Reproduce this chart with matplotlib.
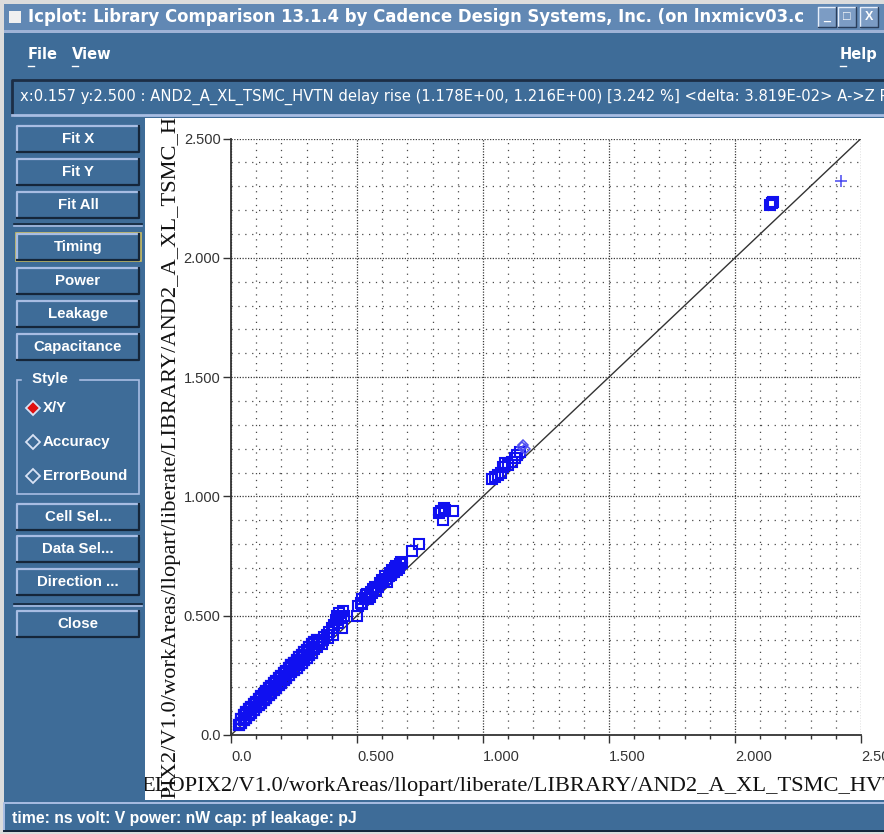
import matplotlib.pyplot as plt
from matplotlib.patches import Rectangle
from matplotlib.lines import Line2D

W, H = 884, 834

# --- data (ns): reference delay vs compared delay ---
# dense lower band, three overlapping rows
band_x = [0.03, 0.04, 0.05, 0.06, 0.07, 0.08, 0.09, 0.10, 0.11, 0.12,
          0.13, 0.14, 0.15, 0.16, 0.17, 0.18, 0.19, 0.20, 0.21, 0.22,
          0.23, 0.24, 0.25, 0.26, 0.27, 0.28, 0.29, 0.30, 0.31, 0.32,
          0.05, 0.06, 0.07, 0.08, 0.09, 0.10, 0.11, 0.12, 0.13, 0.14,
          0.15, 0.16, 0.17, 0.18, 0.19, 0.20, 0.21, 0.22, 0.23, 0.24,
          0.25, 0.26, 0.27, 0.28, 0.29, 0.30, 0.31, 0.32, 0.33, 0.34,
          0.04, 0.06, 0.08, 0.10, 0.12, 0.14, 0.16, 0.18, 0.20, 0.22,
          0.24, 0.26, 0.28, 0.30, 0.32]
band_y = [0.040, 0.052, 0.062, 0.073, 0.084, 0.094, 0.105, 0.116, 0.126, 0.136,
          0.147, 0.157, 0.168, 0.178, 0.188, 0.199, 0.209, 0.219, 0.230, 0.240,
          0.251, 0.262, 0.271, 0.282, 0.293, 0.302, 0.313, 0.323, 0.334, 0.344,
          0.085, 0.097, 0.108, 0.118, 0.130, 0.140, 0.151, 0.163, 0.173, 0.184,
          0.195, 0.206, 0.216, 0.227, 0.238, 0.249, 0.260, 0.270, 0.282, 0.292,
          0.303, 0.315, 0.326, 0.336, 0.347, 0.357, 0.368, 0.380, 0.390, 0.400,
          0.068, 0.090, 0.112, 0.132, 0.155, 0.176, 0.198, 0.218, 0.240, 0.262,
          0.283, 0.305, 0.327, 0.348, 0.368]
# sparser squares further up the diagonal
sq_x = [0.240, 0.250, 0.330, 0.340, 0.350, 0.360, 0.365, 0.370, 0.380, 0.385,
        0.390, 0.400, 0.405, 0.410, 0.415, 0.420, 0.425, 0.430, 0.435, 0.440,
        0.445, 0.450, 0.500, 0.505, 0.515, 0.520, 0.520, 0.530, 0.535, 0.540,
        0.545, 0.550, 0.555, 0.560, 0.565, 0.570, 0.575, 0.585, 0.590, 0.600,
        0.605, 0.610, 0.615, 0.620, 0.625, 0.630, 0.635, 0.640, 0.645, 0.650,
        0.655, 0.660, 0.665, 0.670, 0.675, 0.680,
        0.720, 0.746, 0.827, 0.833, 0.847, 0.840, 0.880, 0.850,
        1.034, 1.047, 1.060, 1.070, 1.080, 1.087, 1.100, 1.114, 1.125, 1.134, 1.147,
        2.140, 2.150, 2.145]
sq_y = [0.295, 0.300, 0.360, 0.370, 0.390, 0.380, 0.400, 0.410, 0.420, 0.405,
        0.430, 0.450, 0.420, 0.460, 0.480, 0.500, 0.470, 0.510, 0.490, 0.450,
        0.520, 0.500, 0.500, 0.540, 0.555, 0.570, 0.550, 0.575, 0.585, 0.590,
        0.570, 0.580, 0.600, 0.595, 0.610, 0.620, 0.605, 0.620, 0.635, 0.650,
        0.640, 0.665, 0.655, 0.640, 0.665, 0.680, 0.670, 0.690, 0.685, 0.700,
        0.710, 0.690, 0.700, 0.715, 0.725, 0.720,
        0.770, 0.800, 0.930, 0.940, 0.951, 0.899, 0.937, 0.945,
        1.072, 1.083, 1.090, 1.100, 1.125, 1.140, 1.130, 1.146, 1.160, 1.174, 1.188,
        2.220, 2.235, 2.228]
dia_x = [1.155, 1.160, 1.166]
dia_y = [1.205, 1.216, 1.200]
plus_x = [2.42]
plus_y = [2.32]

ticks = [0.0, 0.5, 1.0, 1.5, 2.0, 2.5]
tick_labels = ["0.0", "0.500", "1.000", "1.500", "2.000", "2.500"]
minor_ticks = [0.1, 0.2, 0.3, 0.4, 0.6, 0.7, 0.8, 0.9, 1.1, 1.2, 1.3, 1.4,
               1.6, 1.7, 1.8, 1.9, 2.1, 2.2, 2.3, 2.4]

axis_path = "ELOPIX2/V1.0/workAreas/llopart/liberate/LIBRARY/AND2_A_XL_TSMC_HVTN"
title = "Icplot: Library Comparison 13.1.4 by Cadence Design Systems, Inc. (on lnxmicv03.c"
info = ("x:0.157 y:2.500 : AND2_A_XL_TSMC_HVTN delay rise (1.178E+00, 1.216E+00) "
        "[3.242 %] <delta: 3.819E-02> A->Z RF")
units = "time: ns volt: V power: nW cap: pf leakage: pJ"
buttons = ["Fit X", "Fit Y", "Fit All", "Timing", "Power", "Leakage", "Capacitance",
           "Cell Sel...", "Data Sel...", "Direction ...", "Close"]
button_y = [139, 172, 205, 247, 281, 314, 347, 517, 549, 582, 624]
styles = ["X/Y", "Accuracy", "ErrorBound"]
style_y = [408, 442, 476]

BLUE = "#3e6c98"
LIGHT = "#a8bde3"
DARK = "#15263a"
UI = "Liberation Sans"
NARROW = ["Liberation Sans Narrow", "DejaVu Sans"]

fig = plt.figure(figsize=(W / 100, H / 100), dpi=100)

# background axes in pixel coordinates for the window chrome
bg = fig.add_axes([0, 0, 1, 1])
bg.set_xlim(0, W)
bg.set_ylim(H, 0)
bg.axis("off")


def rect(x0, y0, x1, y1, fc, ec="none", lw=0):
    bg.add_patch(Rectangle((x0, y0), x1 - x0, y1 - y0, facecolor=fc,
                           edgecolor=ec, linewidth=lw))


def bevel(x0, y0, x1, y1, light=LIGHT, dark=DARK, lw=1.6):
    bg.add_line(Line2D([x0, x0, x1], [y1, y0, y0], color=light, lw=lw))
    bg.add_line(Line2D([x0, x1, x1], [y1, y1, y0], color=dark, lw=lw))


rect(0, 0, W, H, "#dcdcdc")
rect(4, 4, W, H - 2, BLUE)
# title bar
rect(4, 4, W, 30, "#6188b4")
rect(9, 11, 21, 23, "#f0f0f0")
bg.text(28, 17, title, color="white", fontsize=11.9, fontweight="bold",
        va="center", family="DejaVu Sans")
for x0, sym in [(818, "_"), (838, "□"), (860, "X")]:
    rect(x0, 7, x0 + 18, 27, "#7c9cc4")
    bevel(x0, 7, x0 + 18, 27, light="#e6eefa", dark="#2a3f5c", lw=1)
    bg.text(x0 + 9, 17, sym, color="white", fontsize=9, fontweight="bold",
            ha="center", va="center", family=UI)
rect(4, 30, W, 33, "#9fb3d6")

# menu bar
for x, name in [(28, "File"), (72, "View"), (840, "Help")]:
    bg.text(x, 54, name, color="white", fontsize=10.5, fontweight="bold",
            va="center", family=NARROW)
    bg.add_line(Line2D([x, x + 6], [66, 66], color="white", lw=1))

# info line
rect(12, 80, W, 115, BLUE)
bevel(12, 80, W + 2, 115, light="#1c2e46", dark=LIGHT, lw=2)
bg.text(20, 97, info, color="white", fontsize=10.6, va="center", family=NARROW)

# left panel buttons
for name, yc in zip(buttons, button_y):
    rect(17, yc - 13, 139, yc + 13, BLUE)
    bevel(17, yc - 13, 139, yc + 13)
    bg.text(78, yc, name, color="white", fontsize=10.8, fontweight="bold",
            ha="center", va="center", family=UI)
rect(16, 233, 141, 261, "none", ec="#cfc060", lw=1.2)
for ys in [224, 604]:
    bg.add_line(Line2D([14, 142], [ys, ys], color=DARK, lw=1.2))
    bg.add_line(Line2D([14, 142], [ys + 2, ys + 2], color=LIGHT, lw=1.2))

# style group
bg.add_patch(Rectangle((17, 380), 122, 114, facecolor="none", edgecolor=LIGHT, lw=1.2))
bg.text(50, 379, " Style ", color="white", fontsize=10.8, fontweight="bold",
        ha="center", va="center", family=UI, backgroundcolor=BLUE)
for i, (name, yc) in enumerate(zip(styles, style_y)):
    fc = "#e01010" if i == 0 else BLUE
    bg.plot([33], [yc], marker="D", ms=7, mfc=fc, mec="#d8e2f4", mew=1.3)
    bg.text(43, yc, name, color="white", fontsize=10.8, fontweight="bold",
            va="center", family=UI)

# status bar
rect(4, 803, W, 831, BLUE)
bevel(4, 803, W + 2, 831, light=LIGHT, dark=DARK, lw=1.4)
bg.text(12, 818, units, color="white", fontsize=11.3, fontweight="bold",
        va="center", family=UI)

# white plotting canvas
cv = fig.add_axes([145 / W, 1 - 800 / H, (W - 145) / W, (800 - 118) / H])
cv.set_xlim(145, W)
cv.set_ylim(800, 118)
cv.set_facecolor("white")
cv.set_xticks([])
cv.set_yticks([])
for s in cv.spines.values():
    s.set_visible(False)
cv.text(141, 791, axis_path, family="Liberation Serif", fontsize=16.2,
        color="#111111", ha="left", va="baseline", clip_on=True)
cv.text(175, 841, axis_path, family="Liberation Serif", fontsize=16.2,
        color="#111111", rotation=90, rotation_mode="anchor",
        ha="left", va="baseline", clip_on=True)

# main scatter axes
ax = fig.add_axes([231 / W, 1 - 735 / H, (861 - 231) / W, (735 - 138.5) / H])
ax.set_facecolor("none")
ax.set_xlim(0, 2.5)
ax.set_ylim(0, 2.5)
ax.set_xticks(ticks)
ax.set_yticks(ticks)
ax.set_xticks(minor_ticks, minor=True)
ax.set_yticks(minor_ticks, minor=True)
ax.set_xticklabels(tick_labels, family=UI, fontsize=10.5, color="#333333")
ax.set_yticklabels(tick_labels, family=UI, fontsize=10.5, color="#333333")
for lbl in ax.get_xticklabels():
    lbl.set_ha("left")
ax.tick_params(which="major", length=6, width=1, color="#333333")
ax.tick_params(axis="x", which="major", pad=4.5)
ax.tick_params(axis="y", which="major", pad=1.5)
ax.tick_params(axis="x", which="minor", length=3, width=1, color="#333333")
ax.tick_params(axis="y", which="minor", length=0)
ax.grid(which="major", color="#3a3a3a", linestyle=(0, (1, 1.2)), lw=0.9)
ax.grid(which="minor", color="#4a4a4a", linestyle=(0, (1, 4.5)), lw=0.9)
ax.set_axisbelow(True)
for side in ["top", "right"]:
    ax.spines[side].set_visible(False)
for side in ["left", "bottom"]:
    ax.spines[side].set_color("#333333")
    ax.spines[side].set_linewidth(1.3)

ax.plot([0, 2.5], [0, 2.5], color="#333333", lw=1.0, zorder=2)
ax.plot(band_x, band_y, linestyle="none", marker="s", ms=7, mfc="none",
        mec="#1010f0", mew=1.6, zorder=3)
ax.plot(sq_x, sq_y, linestyle="none", marker="s", ms=7, mfc="none",
        mec="#1010f0", mew=1.5, zorder=3)
ax.plot(dia_x, dia_y, linestyle="none", marker="D", ms=5.5, mfc="none",
        mec="#5050f0", mew=1.1, zorder=3)
ax.plot(plus_x, plus_y, linestyle="none", marker="+", ms=8, mec="#4848f0",
        mew=1.1, zorder=3)

fig.savefig("out.png", dpi=100)
